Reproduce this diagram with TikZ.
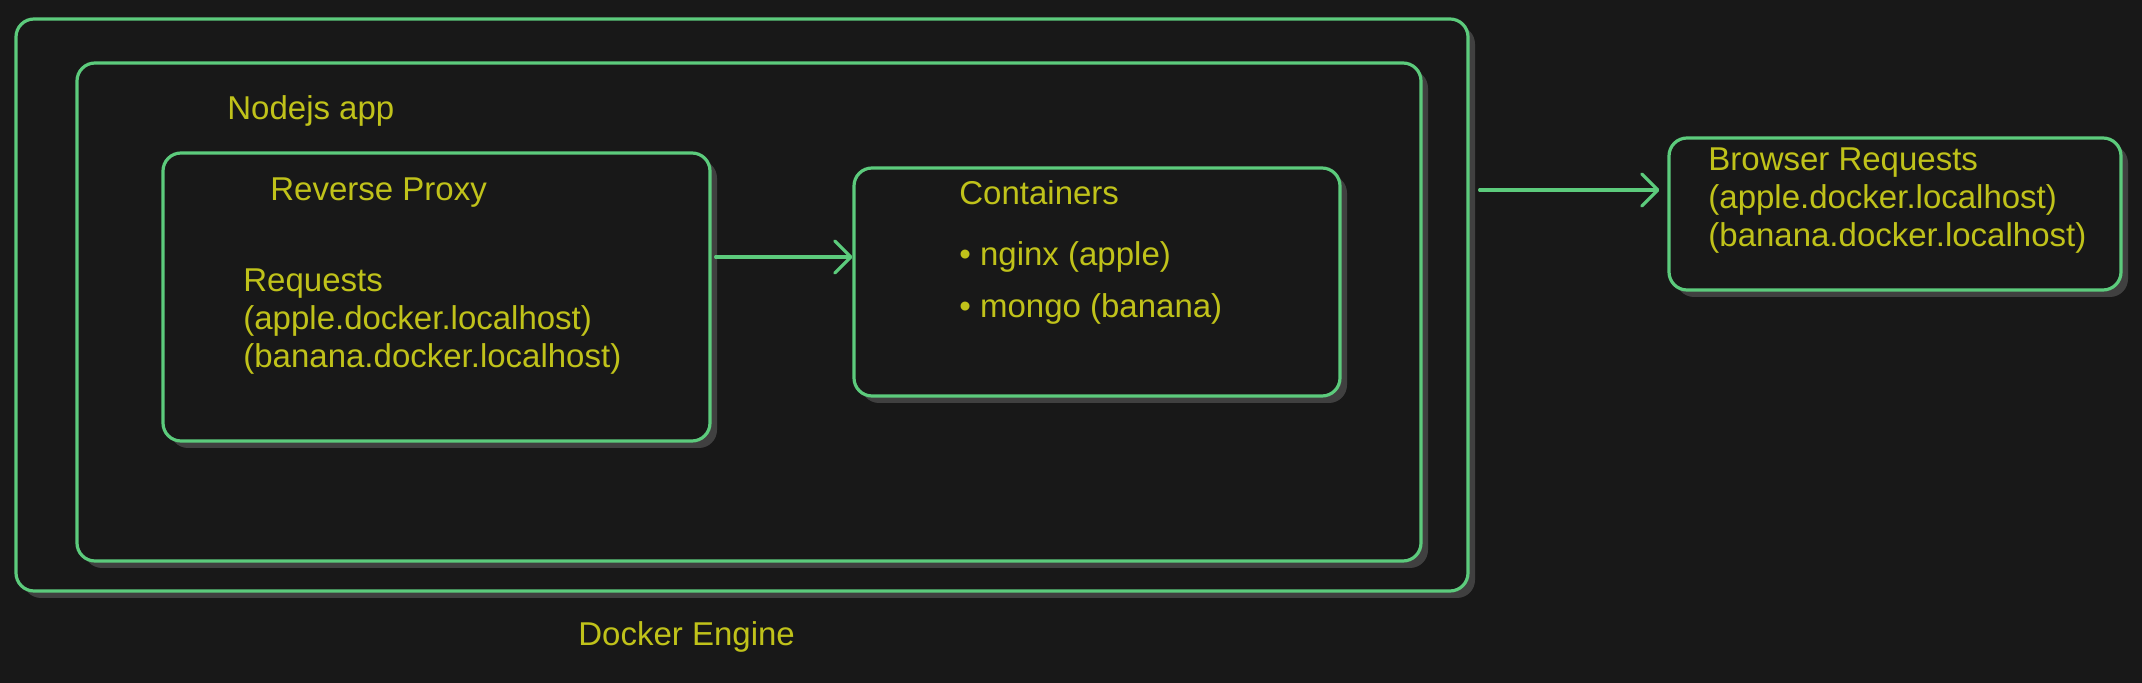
\documentclass[tikz,border=0pt]{standalone}
\usepackage{fontspec}
\setmainfont{Liberation Sans}
\usetikzlibrary{arrows.meta,shadows}
\definecolor{bgdark}{HTML}{181818}
\definecolor{boxgreen}{HTML}{5CCB7C}
\definecolor{txtyellow}{HTML}{C0C21A}
\definecolor{shadowgrey}{HTML}{404040}
\tikzset{
  box/.style={draw=boxgreen, fill=bgdark, line width=1.6pt, rounded corners=9pt, inner sep=0pt,
    drop shadow={shadow xshift=3.5pt, shadow yshift=-3.5pt, fill=shadowgrey, opacity=1}},
  lbl/.style={text=txtyellow, font=\fontsize{16.5}{19}\selectfont, inner sep=0pt, anchor=west, align=left},
  arrow/.style={draw=boxgreen, line width=1.6pt, line cap=round, -{Straight Barb[length=8pt,width=16pt,round]}}
}
\begin{document}
\begin{tikzpicture}[x=0.5pt, y=-0.5pt]
  \fill[bgdark] (0,0) rectangle (2142,683);
  \useasboundingbox (0,0) rectangle (2142,683);
  \node[box, minimum width=726pt, minimum height=286pt] (engine) at (742,305) {};
  \node[box, minimum width=672pt, minimum height=249pt] (nodejs) at (749,312) {};
  \node[box, minimum width=273.5pt, minimum height=144pt] (proxy) at (436.5,297) {};
  \node[box, minimum width=243pt, minimum height=114pt] (containers) at (1097,282) {};
  \node[box, minimum width=226pt, minimum height=76pt] (browser) at (1895,214) {};
  \node[lbl] (nodejslbl) at (227,111) {Nodejs app};
  \node[lbl] (proxylbl) at (270,193) {Reverse Proxy};
  \node[lbl] (reqlbl) at (243,322) {Requests\\(apple.docker.localhost)\\(banana.docker.localhost)};
  \node[lbl] (contlbl) at (959,193) {Containers};
  \node[lbl] (nginxlbl) at (959,257) {• nginx (apple)};
  \node[lbl] (mongolbl) at (959,309) {• mongo (banana)};
  \node[lbl] (browserlbl) at (1708,201) {Browser Requests\\(apple.docker.localhost)\\(banana.docker.localhost)};
  \node[lbl] (enginelbl) at (578,637) {Docker Engine};
  \draw[arrow, shorten <=2pt] ([yshift=20pt]proxy.east) -- ([yshift=20pt]proxy.east -| containers.west);
  \draw[arrow, shorten <=5pt, shorten >=4pt] ([yshift=57.5pt]engine.east) -- ([yshift=57.5pt]engine.east -| browser.west);
\end{tikzpicture}
\end{document}
